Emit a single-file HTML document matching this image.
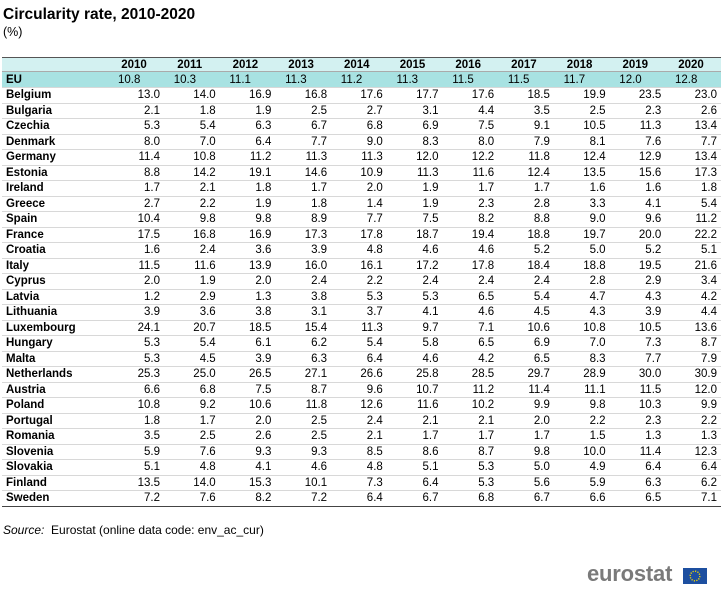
<!DOCTYPE html>
<html><head><meta charset="utf-8"><style>
body{margin:0;width:721px;height:600px;background:#fff;font-family:"Liberation Sans",Arial,sans-serif;position:relative;overflow:hidden;color:#000}
.a{position:absolute;white-space:nowrap}
.row{position:absolute;left:2px;width:719px;border-bottom:1px solid #d8d8d8;box-sizing:border-box}
.c{position:absolute;top:0;font-size:11.5px;line-height:15px}
.n{text-align:right;width:56px}
.cn{left:4px;font-weight:bold}
</style></head><body>
<div class="a" style="left:3px;top:6px;font-size:15.5px;font-weight:bold">Circularity rate, 2010-2020</div>
<div class="a" style="left:3px;top:25px;font-size:12.5px">(%)</div>
<div id="tbl"></div>
<div class="a" style="left:3px;top:523px;font-size:12px"><i>Source:</i>&nbsp; Eurostat (online data code: env_ac_cur)</div>
<div class="a" style="left:587px;top:561px;font-size:22px;font-weight:bold;color:#7a7a7a;letter-spacing:-0.2px">eurostat</div>
<svg class="a" style="left:683px;top:568px" width="24" height="16"><rect width="24" height="16" fill="#1d4fa0"/><circle cx="12" cy="8" r="4.8" fill="none" stroke="#f2d400" stroke-width="1.4" stroke-dasharray="1.2 1.3"/></svg>
<script>
const years=[2010,2011,2012,2013,2014,2015,2016,2017,2018,2019,2020];
const euValues=[10.8,10.3,11.1,11.3,11.2,11.3,11.5,11.5,11.7,12.0,12.8];
const countries=["Belgium","Bulgaria","Czechia","Denmark","Germany","Estonia","Ireland","Greece","Spain","France","Croatia","Italy","Cyprus","Latvia","Lithuania","Luxembourg","Hungary","Malta","Netherlands","Austria","Poland","Portugal","Romania","Slovenia","Slovakia","Finland","Sweden"];
const values=[
[13.0,14.0,16.9,16.8,17.6,17.7,17.6,18.5,19.9,23.5,23.0],
[2.1,1.8,1.9,2.5,2.7,3.1,4.4,3.5,2.5,2.3,2.6],
[5.3,5.4,6.3,6.7,6.8,6.9,7.5,9.1,10.5,11.3,13.4],
[8.0,7.0,6.4,7.7,9.0,8.3,8.0,7.9,8.1,7.6,7.7],
[11.4,10.8,11.2,11.3,11.3,12.0,12.2,11.8,12.4,12.9,13.4],
[8.8,14.2,19.1,14.6,10.9,11.3,11.6,12.4,13.5,15.6,17.3],
[1.7,2.1,1.8,1.7,2.0,1.9,1.7,1.7,1.6,1.6,1.8],
[2.7,2.2,1.9,1.8,1.4,1.9,2.3,2.8,3.3,4.1,5.4],
[10.4,9.8,9.8,8.9,7.7,7.5,8.2,8.8,9.0,9.6,11.2],
[17.5,16.8,16.9,17.3,17.8,18.7,19.4,18.8,19.7,20.0,22.2],
[1.6,2.4,3.6,3.9,4.8,4.6,4.6,5.2,5.0,5.2,5.1],
[11.5,11.6,13.9,16.0,16.1,17.2,17.8,18.4,18.8,19.5,21.6],
[2.0,1.9,2.0,2.4,2.2,2.4,2.4,2.4,2.8,2.9,3.4],
[1.2,2.9,1.3,3.8,5.3,5.3,6.5,5.4,4.7,4.3,4.2],
[3.9,3.6,3.8,3.1,3.7,4.1,4.6,4.5,4.3,3.9,4.4],
[24.1,20.7,18.5,15.4,11.3,9.7,7.1,10.6,10.8,10.5,13.6],
[5.3,5.4,6.1,6.2,5.4,5.8,6.5,6.9,7.0,7.3,8.7],
[5.3,4.5,3.9,6.3,6.4,4.6,4.2,6.5,8.3,7.7,7.9],
[25.3,25.0,26.5,27.1,26.6,25.8,28.5,29.7,28.9,30.0,30.9],
[6.6,6.8,7.5,8.7,9.6,10.7,11.2,11.4,11.1,11.5,12.0],
[10.8,9.2,10.6,11.8,12.6,11.6,10.2,9.9,9.8,10.3,9.9],
[1.8,1.7,2.0,2.5,2.4,2.1,2.1,2.0,2.2,2.3,2.2],
[3.5,2.5,2.6,2.5,2.1,1.7,1.7,1.7,1.5,1.3,1.3],
[5.9,7.6,9.3,9.3,8.5,8.6,8.7,9.8,10.0,11.4,12.3],
[5.1,4.8,4.1,4.6,4.8,5.1,5.3,5.0,4.9,6.4,6.4],
[13.5,14.0,15.3,10.1,7.3,6.4,5.3,5.6,5.9,6.3,6.2],
[7.2,7.6,8.2,7.2,6.4,6.7,6.8,6.7,6.6,6.5,7.1]];
const tbl=document.getElementById('tbl');
const colX=i=>102+i*55.7;
function mkRow(top,h,bg,name,label){
  const r=document.createElement('div');
  r.className='row';
  r.style.top=top+'px';r.style.height=h+'px';if(bg)r.style.background=bg;
  
  
  if(label!==null){const c=document.createElement('div');c.className='c cn';c.textContent=label;c.style.top=((h-15)/2)+'px';
  
  
  r.appendChild(c);}
  tbl.appendChild(r);return r;
}
const hdr=mkRow(56.5,15.5,'#d3f1f1','header-row',null);
hdr.style.borderTop='1px solid #555';hdr.style.borderBottom='1px solid #aaa';
years.forEach((y,i)=>{const c=document.createElement('div');c.className='c';c.style.left=(colX(i)+2)+'px';c.style.width='56px';c.style.textAlign='center';c.style.fontWeight='bold';c.textContent=y;


hdr.appendChild(c);});
const eu=mkRow(72,16,'#a8e2e2','eu-row','EU');
euValues.forEach((v,i)=>{const c=document.createElement('div');c.className='c';c.style.left=(colX(i)+14)+'px';c.style.top='1px';c.textContent=v.toFixed(1);


eu.appendChild(c);});
countries.forEach((n,k)=>{
  const top=88+k*15.5;
  const r=mkRow(top,15.5,null,'row-'+n.toLowerCase(),n);
  if(k===countries.length-1)r.style.borderBottom='1px solid #444';
  values[k].forEach((v,i)=>{const c=document.createElement('div');c.className='c n';c.style.left=colX(i)+'px';c.textContent=v.toFixed(1);
  
  
  r.appendChild(c);});
});
</script>
</body></html>
